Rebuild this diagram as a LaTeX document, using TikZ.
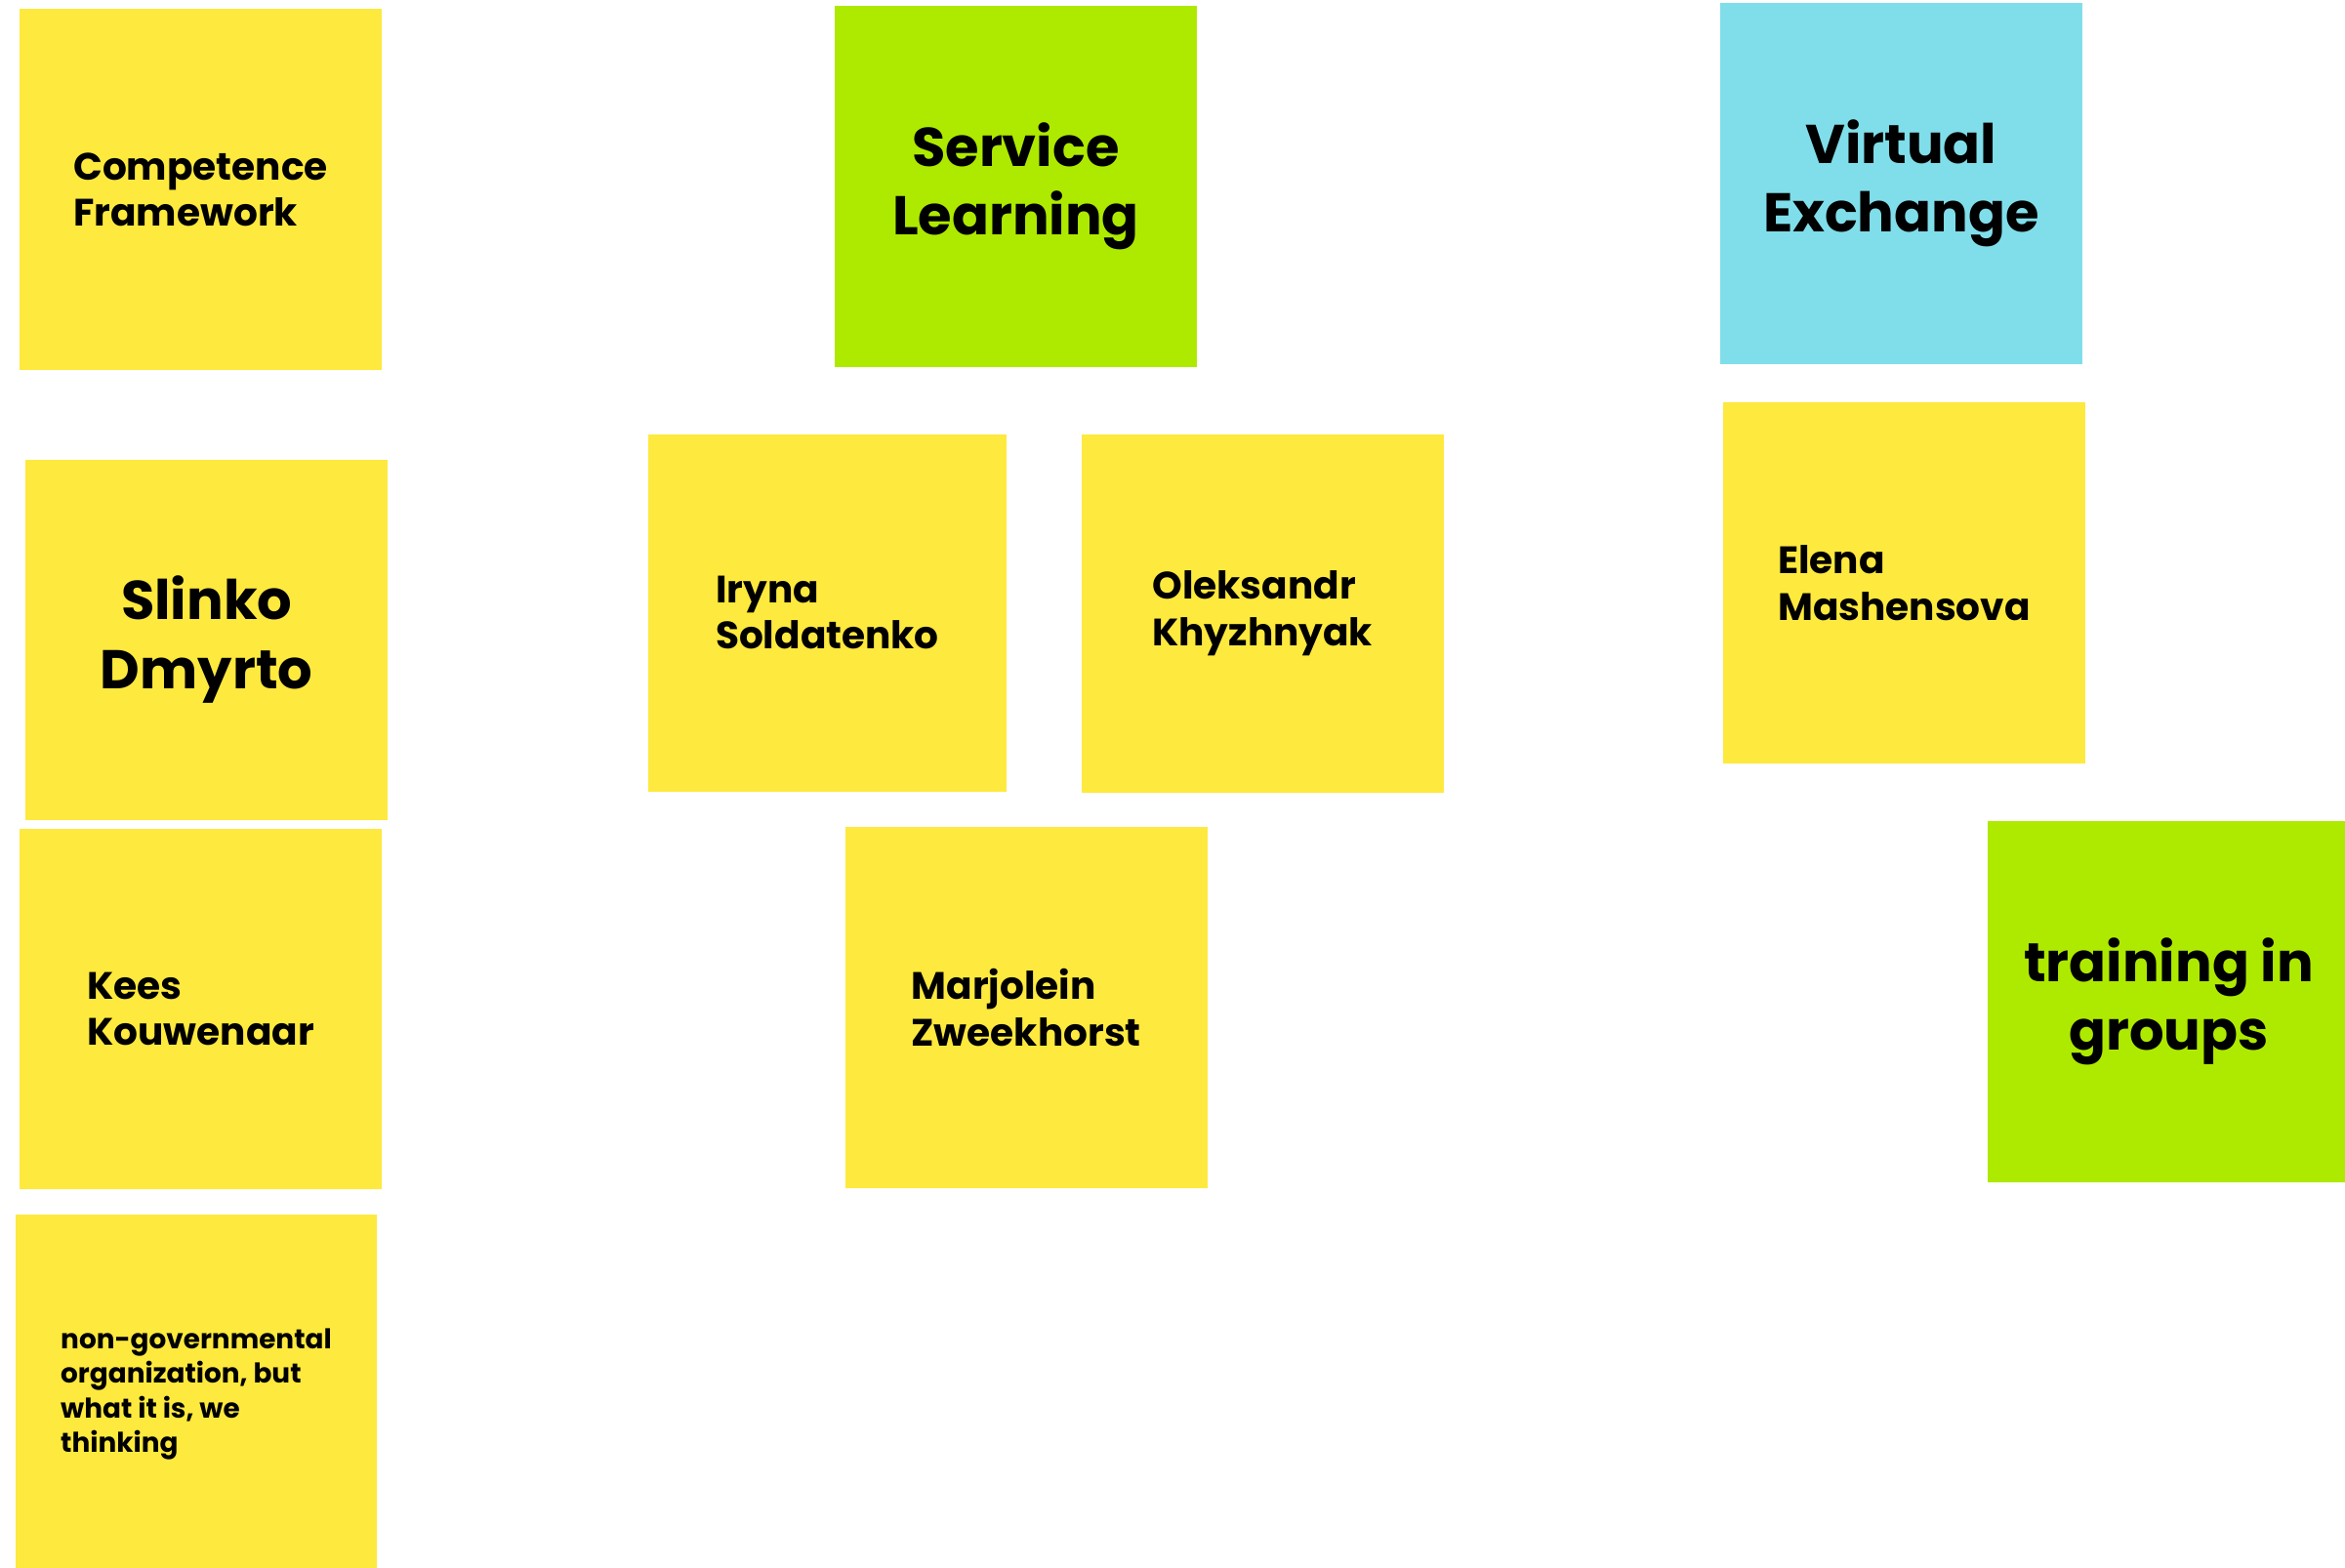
\documentclass[tikz,border=0pt]{standalone}
\usepackage{fontspec}
\setmainfont{Poppins}
\definecolor{noteyellow}{HTML}{FEE93E}
\definecolor{notegreen}{HTML}{AEEA00}
\definecolor{noteblue}{HTML}{80DEEA}
\tikzset{
  note/.style={rectangle, minimum width=242pt, minimum height=241pt, inner sep=0pt, anchor=north west, text=black},
  yellownote/.style={note, fill=noteyellow, align=left, font=\bfseries\fontsize{25.5}{31}\selectfont},
  greennote/.style={note, fill=notegreen, align=center, font=\bfseries\fontsize{36.5}{46}\selectfont},
  bluenote/.style={note, fill=noteblue, align=center, font=\bfseries\fontsize{36.5}{46}\selectfont},
  bignote/.style={note, fill=noteyellow, align=center, font=\bfseries\fontsize{36.5}{46}\selectfont},
  smallnote/.style={note, fill=noteyellow, align=left, font=\bfseries\fontsize{18.2}{23}\selectfont}
}
\begin{document}
\begin{tikzpicture}[x=1pt,y=-1pt]
\useasboundingbox[fill=white] (0,0) rectangle (1568,1048);
\node[yellownote] (comp) at (13,6) {Competence\\Framework};
\node[greennote] (serv) at (558,4) {Service\\Learning};
\node[bluenote] (virt) at (1150,2) {Virtual\\Exchange};
\node[bignote] (slinko) at (17,307) {Slinko\\Dmyrto};
\node[yellownote, minimum width=240pt, minimum height=239pt] (iryna) at (433,290) {Iryna\\Soldatenko};
\node[yellownote, minimum height=240pt] (olek) at (723,290) {Oleksandr\\Khyzhnyak};
\node[yellownote] (elena) at (1152,269) {Elena\\Mashensova};
\node[yellownote] (kees) at (13,554) {Kees\\Kouwenaar};
\node[yellownote] (marj) at (565,553) {Marjolein\\Zweekhorst};
\node[greennote, minimum width=242pt] (train) at (1329,549) {training in\\groups};
\node[smallnote, minimum height=240pt] (ngo) at (10,812) {non-governmental\\organization, but\\what it is, we\\thinking};
\end{tikzpicture}
\end{document}
